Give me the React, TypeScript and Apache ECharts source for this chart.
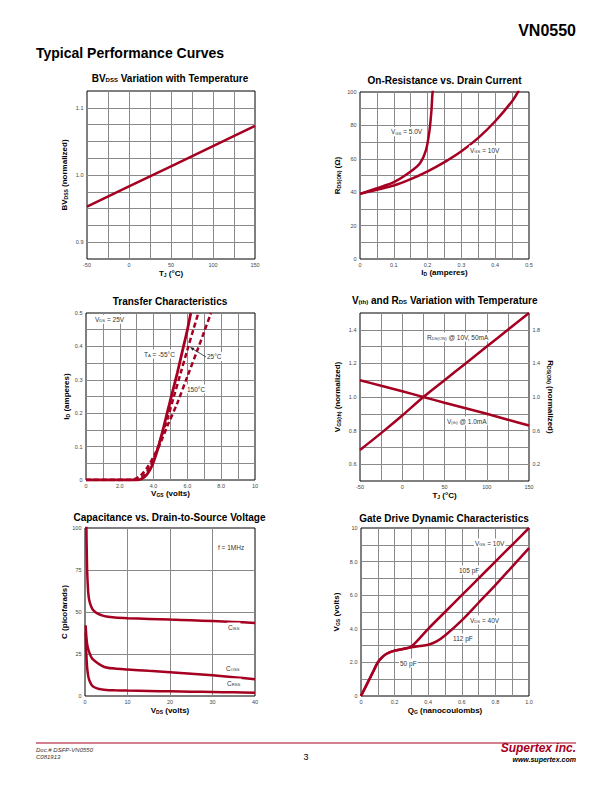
import React, { useEffect, useRef } from 'react';
import * as echarts from 'echarts';

const RED = '#A50021';
const FONT = '"Liberation Sans", Arial, Helvetica, sans-serif';
const GRIDC = '#8a8a8a';

// ---------- Chart 1: BVdss vs temperature ----------
const bvTemp = [-50, 0, 50, 100, 150];
const bvNorm = [0.953, 0.983, 1.013, 1.043, 1.073];
const bvXTicks = ['-50', '0', '50', '100', '150'];
const bvYTicks = ['0.9', '1.0', '1.1'];

// ---------- Chart 2: On-resistance vs drain current ----------
const ronId5 = [0, 0.05, 0.1, 0.15, 0.178, 0.195, 0.205, 0.211, 0.214, 0.217];
const ronR5 = [39, 42.4, 46, 52.4, 57.5, 65, 76, 88, 98, 104];
const ronId10 = [0, 0.05, 0.1, 0.15, 0.2, 0.25, 0.3, 0.35, 0.4, 0.45, 0.47];
const ronR10 = [39, 41.5, 44, 47.8, 52.5, 58, 64.5, 72.5, 82.5, 94.5, 101];
const ronXTicks = ['0', '0.1', '0.2', '0.3', '0.4', '0.5'];
const ronYTicks = ['0', '20', '40', '60', '80', '100'];

// ---------- Chart 3: Transfer characteristics ----------
const trV55 = [0, 3.0, 3.3, 3.6, 3.9, 4.2, 4.5, 4.8, 5.1, 5.4, 5.7, 6.0, 6.2];
const trI55 = [0, 0, 0.004, 0.016, 0.042, 0.085, 0.14, 0.2, 0.26, 0.32, 0.385, 0.45, 0.5];
const trV25 = [0, 2.8, 3.1, 3.4, 3.8, 4.1, 4.4, 4.8, 5.2, 5.6, 6.0, 6.35, 6.65];
const trI25 = [0, 0, 0.003, 0.012, 0.04, 0.075, 0.12, 0.18, 0.25, 0.32, 0.39, 0.45, 0.5];
const trV150 = [0, 2.6, 2.9, 3.2, 3.6, 4.0, 4.4, 4.8, 5.4, 6.0, 6.6, 7.0, 7.4];
const trI150 = [0, 0, 0.003, 0.012, 0.035, 0.07, 0.11, 0.16, 0.23, 0.31, 0.39, 0.445, 0.5];
const trXTicks = ['0', '2.0', '4.0', '6.0', '8.0', '10'];
const trYTicks = ['0', '0.1', '0.2', '0.3', '0.4', '0.5'];

// ---------- Chart 4: Vth and Rds vs temperature ----------
const vtTemp = [-50, -25, 0, 25, 50, 75, 100, 125, 150];
const vthNorm = [1.1, 1.067, 1.034, 1.0, 0.966, 0.933, 0.9, 0.865, 0.83];
const rdsNorm = [0.37, 0.57, 0.78, 1.0, 1.2, 1.4, 1.6, 1.8, 2.0];
const vtXTicks = ['-50', '0', '50', '100', '150'];
const vtYTicks = ['0.6', '0.8', '1.0', '1.2', '1.4'];
const vtY2Ticks = ['0.2', '0.6', '1.0', '1.4', '1.8'];

// ---------- Chart 5: Capacitance vs Vds ----------
const capV = [0.15, 0.3, 0.5, 0.75, 1, 1.5, 2, 3, 4, 5, 7, 10, 15, 20, 25, 30, 35, 40];
const capCiss = [140, 105, 75, 62, 57, 53, 51, 49, 48, 47.3, 46.7, 46.3, 45.9, 45.5, 45.1, 44.6, 44.1, 43.5];
const capCoss = [42, 36, 31, 28, 26, 23, 21.5, 19.5, 18, 17, 16.3, 15.8, 15, 14.2, 13.3, 12.3, 11.2, 10];
const capCrss = [38, 26, 17, 12, 9.5, 6.8, 5.5, 4.4, 3.9, 3.6, 3.4, 3.2, 3.0, 2.8, 2.6, 2.4, 2.2, 2.0];
const capXTicks = ['0', '10', '20', '30', '40'];
const capYTicks = ['0', '25', '50', '75', '100'];

// ---------- Chart 6: Gate drive ----------
const gdQ10 = [0, 0.025, 0.05, 0.075, 0.1, 0.125, 0.15, 0.2, 0.25, 0.3, 0.4, 0.5, 0.6, 0.7, 0.8, 0.9, 1.0];
const gdV10 = [0, 0.5, 1.0, 1.5, 2.0, 2.3, 2.5, 2.7, 2.8, 2.95, 4.0, 5.0, 6.0, 7.0, 8.0, 9.0, 10.0];
const gdQ40 = [0, 0.025, 0.05, 0.075, 0.1, 0.125, 0.15, 0.2, 0.25, 0.3, 0.35, 0.4, 0.45, 0.5, 0.6, 0.7, 0.8, 0.9, 1.0];
const gdV40 = [0, 0.5, 1.0, 1.5, 2.0, 2.3, 2.5, 2.7, 2.8, 2.9, 2.97, 3.05, 3.25, 3.6, 4.5, 5.55, 6.6, 7.7, 8.8];
const gdXTicks = ['0', '0.2', '0.4', '0.6', '0.8', '1.0'];
const gdYTicks = ['0', '2.0', '4.0', '6.0', '8.0', '10'];

const fmt = (labels: string[]) => (v: number) => {
  const hit = labels.find((l) => Math.abs(parseFloat(l) - v) < 1e-6);
  return hit === undefined ? '' : hit;
};

const nameRich = {
  m: { fontSize: 8, fontWeight: 'bold', fontFamily: FONT, color: '#000' },
  s: { fontSize: 5, fontWeight: 'bold', fontFamily: FONT, color: '#000', verticalAlign: 'bottom', padding: [3, 0, 0, 0] },
};

const axisCommon = (labels: string[]) => ({
  type: 'value',
  nameLocation: 'middle',
  nameTextStyle: { rich: nameRich, fontFamily: FONT },
  axisLine: { show: false },
  axisTick: { show: false },
  splitLine: { show: true, showMinLine: false, showMaxLine: false, lineStyle: { color: GRIDC, width: 1 } },
  axisLabel: { fontSize: 5.5, color: '#444', fontFamily: FONT, formatter: fmt(labels), hideOverlap: false },
});

const xAx = (gridIndex: number, min: number, max: number, interval: number, labels: string[], name: string, gap: number) => {
  const c: any = axisCommon(labels);
  return { ...c, gridIndex, min, max, interval, name, nameGap: gap, axisLabel: { ...c.axisLabel, margin: 2.5 } };
};
const yAx = (gridIndex: number, min: number, max: number, interval: number, labels: string[], name: string, gap: number) => {
  const c: any = axisCommon(labels);
  return { ...c, gridIndex, min, max, interval, name, nameGap: gap, axisLabel: { ...c.axisLabel, margin: 3.5 } };
};

const line = (xi: number, yi: number, xs: number[], ys: number[], dashed = false, width = 2.5, smooth: any = 0.3) => ({
  type: 'line',
  xAxisIndex: xi,
  yAxisIndex: yi,
  data: xs.map((x, i) => [x, ys[i]]),
  symbol: 'none',
  showSymbol: false,
  smooth,
  silent: true,
  clip: true,
  lineStyle: { color: RED, width, type: dashed ? [5, 3] : 'solid', cap: 'butt' },
});

const titleRich = {
  m: { fontSize: 10, fontWeight: 'bold', fontFamily: FONT, fill: '#000', color: '#000' },
  s: { fontSize: 6, fontWeight: 'bold', fontFamily: FONT, fill: '#000', color: '#000', verticalAlign: 'bottom', padding: [4, 0, 0, 0] },
};
const noteRich = {
  m: { fontSize: 6.5, fontFamily: FONT, fill: '#333', color: '#333' },
  s: { fontSize: 4.2, fontFamily: FONT, fill: '#333', color: '#333', verticalAlign: 'bottom', padding: [3, 0, 0, 0] },
};

const title = (x: number, y: number, text: string) => ({
  type: 'text', x, y, z: 100,
  style: { text, rich: titleRich, align: 'center', verticalAlign: 'middle', fontFamily: FONT, fontSize: 10, fontWeight: 'bold', fill: '#000' },
});
const note = (x: number, y: number, text: string) => ({
  type: 'text', x, y, z: 100,
  style: { text, rich: noteRich, align: 'left', verticalAlign: 'middle', fontFamily: FONT, fontSize: 6.5, fill: '#333', backgroundColor: '#fff', padding: [1, 1, 1, 1] },
});
const plain = (x: number, y: number, text: string, st: any) => ({
  type: 'text', x, y, z: 100,
  style: { text, fontFamily: FONT, fill: '#000', verticalAlign: 'middle', ...st },
});

export default function App() {
  const ref = useRef<HTMLDivElement>(null);
  useEffect(() => {
    if (!ref.current) return;
    const chart = echarts.init(ref.current, null, { renderer: 'svg', width: 612, height: 792 });
    const grids = [
      { left: 87, top: 91, width: 168, height: 168 },
      { left: 360, top: 92, width: 169, height: 167 },
      { left: 86, top: 313, width: 169, height: 167 },
      { left: 360, top: 313, width: 169, height: 168 },
      { left: 85, top: 528, width: 170, height: 168 },
      { left: 361, top: 528, width: 168, height: 168 },
    ].map((g) => ({ ...g, show: true, borderColor: '#000', borderWidth: 1, containLabel: false }));

    const y4r: any = yAx(3, 0, 2, 0.2, vtY2Ticks, '{m|R}{s|DS(ON)}{m| (normalized)}', 17);
    y4r.position = 'right';
    y4r.nameRotate = -90;
    y4r.splitLine = { show: false };

    const option: any = {
      animation: false,
      backgroundColor: '#fff',
      grid: grids,
      xAxis: [
        xAx(0, -50, 150, 25, bvXTicks, '{m|T}{s|J}{m| (°C)}', 10),
        xAx(1, 0, 0.5, 0.05, ronXTicks, '{m|I}{s|D}{m| (amperes)}', 9),
        xAx(2, 0, 10, 1, trXTicks, '{m|V}{s|GS}{m| (volts)}', 9),
        xAx(3, -50, 150, 25, vtXTicks, '{m|T}{s|J}{m| (°C)}', 10.5),
        xAx(4, 0, 40, 10, capXTicks, '{m|V}{s|DS}{m| (volts)}', 10),
        xAx(5, 0, 1.0, 0.1, gdXTicks, '{m|Q}{s|G}{m| (nanocoulombs)}', 10.5),
      ],
      yAxis: [
        yAx(0, 0.875, 1.125, 0.025, bvYTicks, '{m|BV}{s|DSS}{m| (normalized)}', 19),
        yAx(1, 0, 100, 10, ronYTicks, '{m|R}{s|DS(ON)}{m| (Ω)}', 19),
        yAx(2, 0, 0.5, 0.05, trYTicks, '{m|I}{s|D}{m| (amperes)}', 16),
        yAx(3, 0.5, 1.5, 0.1, vtYTicks, '{m|V}{s|GS(th)}{m| (normalized)}', 19),
        yAx(4, 0, 100, 25, capYTicks, '{m|C (picofarads)}', 15),
        yAx(5, 0, 10, 1, gdYTicks, '{m|V}{s|GS}{m| (volts)}', 21),
        y4r,
      ],
      series: [
        line(0, 0, bvTemp, bvNorm, false, 2.5, false),
        line(1, 1, ronId5, ronR5),
        line(1, 1, ronId10, ronR10),
        line(2, 2, trV55, trI55, false, 2.8),
        line(2, 2, trV25, trI25, true),
        line(2, 2, trV150, trI150, true),
        line(3, 3, vtTemp, vthNorm),
        line(3, 6, vtTemp, rdsNorm),
        line(4, 4, capV, capCiss),
        line(4, 4, capV, capCoss),
        line(4, 4, capV, capCrss),
        line(5, 5, gdQ10, gdV10),
        line(5, 5, gdQ40, gdV40),
      ],
      graphic: [
        plain(576, 30, 'VN0550', { align: 'right', fontSize: 16, fontWeight: 'bold' }),
        plain(36, 53, 'Typical Performance Curves', { align: 'left', fontSize: 14, fontWeight: 'bold' }),
        title(170, 78, '{m|BV}{s|DSS}{m| Variation with Temperature}'),
        title(444.5, 80.5, '{m|On-Resistance vs. Drain Current}'),
        title(170, 301.5, '{m|Transfer Characteristics}'),
        title(444.7, 300, '{m|V}{s|(th)}{m| and R}{s|DS}{m| Variation with Temperature}'),
        title(169.5, 517.7, '{m|Capacitance vs. Drain-to-Source Voltage}'),
        title(444, 518.3, '{m|Gate Drive Dynamic Characteristics}'),
        // chart 2 notes
        note(390, 131.7, '{m|V}{s|GS}{m| = 5.0V}'),
        note(469, 150, '{m|V}{s|GS}{m| = 10V}'),
        // chart 3 notes
        note(94, 319.3, '{m|V}{s|DS}{m| = 25V}'),
        note(143, 354, '{m|T}{s|A}{m| = -55°C}'),
        note(206, 356.7, '{m|25°C}'),
        note(186, 389, '{m|150°C}'),
        { type: 'line', z: 100, shape: { x1: 206, y1: 357, x2: 192.5, y2: 348.8 }, style: { stroke: '#222', lineWidth: 0.8 } },
        { type: 'polygon', z: 100, shape: { points: [[190, 347], [194.4, 347.9], [192.6, 350.7]] }, style: { fill: '#222' } },
        // chart 4 notes
        note(426, 337, '{m|R}{s|DS(ON)}{m| @ 10V, 50mA}'),
        note(446, 421, '{m|V}{s|(th)}{m| @ 1.0mA}'),
        // chart 5 notes
        note(217, 547, '{m|f = 1MHz}'),
        note(227, 627, '{m|C}{s|ISS}'),
        note(225, 668, '{m|C}{s|OSS}'),
        note(226, 683, '{m|C}{s|RSS}'),
        // chart 6 notes
        note(474, 543, '{m|V}{s|GS}{m| = 10V}'),
        note(458, 570, '{m|105 pF}'),
        note(469, 620, '{m|V}{s|DS}{m| = 40V}'),
        note(452, 638, '{m|112 pF}'),
        note(399, 663, '{m|50 pF}'),
        // footer
        { type: 'line', z: 100, shape: { x1: 36, y1: 743, x2: 576, y2: 743 }, style: { stroke: RED, lineWidth: 1 } },
        plain(36, 749.5, 'Doc.# DSFP-VN0550', { fontSize: 6, fontStyle: 'italic', fill: '#333' }),
        plain(36, 756.5, 'C081913', { fontSize: 6, fontStyle: 'italic', fill: '#333' }),
        plain(306, 757, '3', { fontSize: 9, align: 'center' }),
        plain(576, 747.5, 'Supertex inc.', { align: 'right', fontSize: 12, fontWeight: 'bold', fontStyle: 'italic', fill: RED }),
        plain(576, 759.5, 'www.supertex.com', { align: 'right', fontSize: 7, fontWeight: 'bold', fontStyle: 'italic', fill: '#000' }),
      ],
    };
    chart.setOption(option);
    return () => chart.dispose();
  }, []);
  return <div ref={ref} style={{ position: 'absolute', left: 0, top: 0, width: 612, height: 792, background: '#fff' }} />;
}
